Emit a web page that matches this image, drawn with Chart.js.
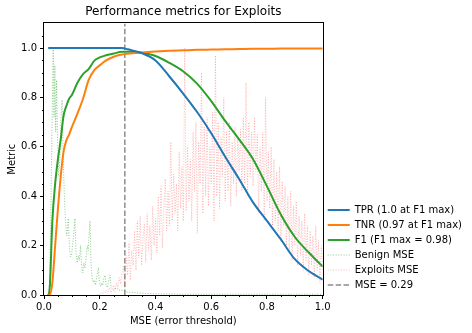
<!DOCTYPE html>
<html lang="en">
<head>
<meta charset="UTF-8">
<title>Performance metrics for Exploits</title>
<script src="https://cdn.jsdelivr.net/npm/chart.js"></script>
<style>
    body {
        margin: 0;
        background: #fff;
    }
</style>
</head>
<body>
<canvas id="myChart" width="472" height="333"></canvas>
<script>
// thresholds used for the TPR / TNR / F1 curves
const metricX = [0.015, 0.02, 0.03, 0.04, 0.05, 0.06, 0.07, 0.08, 0.09, 0.10, 0.12, 0.14, 0.16, 0.18, 0.20, 0.22, 0.25, 0.28,
    0.30, 0.35, 0.40, 0.45, 0.50, 0.55, 0.60, 0.65, 0.70, 0.75, 0.80, 0.85, 0.90, 0.95, 1.00];
const tpr = [1, 1, 1, 1, 1, 1, 1, 1, 1, 1, 1, 1, 1, 1, 1, 1, 1, 1,
    0.995, 0.98, 0.95, 0.885, 0.815, 0.74, 0.655, 0.56, 0.47, 0.375, 0.30, 0.225, 0.145, 0.097, 0.062];
const tnr = [0, 0, 0.05, 0.2, 0.35, 0.48, 0.58, 0.625, 0.65, 0.68, 0.735, 0.795, 0.87, 0.91, 0.93, 0.948, 0.965, 0.974,
    0.977, 0.982, 0.986, 0.989, 0.991, 0.993, 0.994, 0.995, 0.996, 0.997, 0.997, 0.998, 0.998, 0.998, 0.998];
const f1 = [0, 0.02, 0.3, 0.45, 0.55, 0.63, 0.725, 0.765, 0.795, 0.81, 0.86, 0.895, 0.915, 0.948, 0.962, 0.97, 0.978, 0.985,
    0.985, 0.981, 0.968, 0.94, 0.905, 0.855, 0.785, 0.705, 0.63, 0.55, 0.44, 0.325, 0.235, 0.172, 0.115];

// benign MSE distribution (normalised)
const benignX = [0.015, 0.020, 0.024, 0.029, 0.033, 0.036, 0.039, 0.042, 0.045, 0.049,
    0.053, 0.057, 0.061, 0.065, 0.069, 0.073, 0.077, 0.081, 0.084, 0.087,
    0.091, 0.095, 0.099, 0.103, 0.107, 0.111, 0.115, 0.119, 0.123, 0.127,
    0.131, 0.135, 0.139, 0.143, 0.147, 0.151, 0.155, 0.159, 0.162, 0.165,
    0.169, 0.173, 0.177, 0.181, 0.185, 0.189, 0.192, 0.195, 0.199, 0.203,
    0.207, 0.211, 0.215, 0.219, 0.223, 0.227, 0.231, 0.235, 0.237, 0.241,
    0.245, 0.25, 0.26, 0.27, 0.28, 0.29, 0.30, 0.32, 0.34, 0.37,
    0.40, 0.45, 0.50, 0.60, 0.70, 0.80, 0.90, 1.00];
const benignY = [0, 0.05, 0.3, 0.7, 1.0, 0.72, 0.93, 0.66, 0.87, 0.62,
    0.48, 0.55, 0.72, 0.79, 0.55, 0.40, 0.30, 0.24, 0.26, 0.31,
    0.20, 0.155, 0.16, 0.21, 0.25, 0.31, 0.17, 0.13, 0.16, 0.14,
    0.20, 0.12, 0.09, 0.13, 0.11, 0.15, 0.20, 0.18, 0.25, 0.30,
    0.12, 0.07, 0.05, 0.06, 0.04, 0.07, 0.09, 0.11, 0.05, 0.035,
    0.05, 0.04, 0.07, 0.08, 0.04, 0.03, 0.05, 0.07, 0.08, 0.03,
    0.025, 0.02, 0.03, 0.02, 0.018, 0.015, 0.012, 0.01, 0.008, 0.006,
    0.005, 0.004, 0.003, 0.003, 0.003, 0.003, 0.003, 0.003];

// exploits MSE distribution (normalised), one value every 0.005 from 0.19
const exploitsStart = 0.19;
const exploitsStep = 0.005;
const exploitsY = [
    0.000, 0.005, 0.002, 0.010, 0.004, 0.015, 0.008, 0.020, 0.012, 0.030, 0.010, 0.025, 0.040, 0.015, 0.050, 0.030, 0.070, 0.045, 0.090,
    0.12, 0.03, 0.16, 0.08, 0.21, 0.06, 0.18, 0.12, 0.26, 0.10, 0.30, 0.15,
    0.32, 0.12, 0.22, 0.29, 0.13, 0.33, 0.18, 0.28, 0.14, 0.36, 0.20, 0.31,
    0.17, 0.40, 0.24, 0.44, 0.19, 0.35, 0.47, 0.26, 0.42, 0.28, 0.62, 0.30,
    0.49, 0.33, 0.45, 0.26, 0.58, 0.35, 0.52, 0.30, 1.00, 0.34, 0.60, 0.38,
    0.55, 0.30, 0.66, 0.42, 0.70, 0.25, 0.62, 0.45, 0.90, 0.33, 0.68, 0.40,
    0.72, 0.36, 0.60, 0.45, 0.74, 0.30, 0.97, 0.40, 0.70, 0.35, 0.64, 0.48,
    0.80, 0.38, 0.66, 0.42, 0.70, 0.36, 0.62, 0.45, 0.68, 0.40, 0.64, 0.50,
    0.67, 0.42, 0.72, 0.45, 0.86, 0.40, 0.70, 0.48, 0.66, 0.44, 0.72, 0.50,
    0.65, 0.33, 0.60, 0.42, 0.66, 0.30, 0.80, 0.38, 0.58, 0.35, 0.60, 0.28,
    0.55, 0.30, 0.50, 0.26, 0.52, 0.22, 0.46, 0.28, 0.44, 0.20, 0.40, 0.18,
    0.42, 0.14, 0.36, 0.20, 0.38, 0.12, 0.32, 0.16, 0.30, 0.10, 0.33, 0.14,
    0.28, 0.08, 0.26, 0.12, 0.24, 0.07, 0.28, 0.10, 0.22, 0.05, 0.20, 0.10
];

const mseThreshold = 0.29;
const xTicks = [0, 0.2, 0.4, 0.6, 0.8, 1.0];
const yTicks = [0, 0.2, 0.4, 0.6, 0.8, 1.0];
const seriesNames = ['TPR (1.0 at F1 max)', 'TNR (0.97 at F1 max)', 'F1 (F1 max = 0.98)',
    'Benign MSE', 'Exploits MSE', 'MSE = 0.29'];

const font = 'DejaVu Sans';
Chart.defaults.font.family = font;
Chart.defaults.color = '#000';

function pts(xs, ys) {
    return ys.map((v, i) => ({ x: xs[i], y: v }));
}
const exploitsPts = exploitsY.map((v, i) => ({ x: exploitsStart + i * exploitsStep, y: v }));

// axes box + minor ticks like matplotlib
const frame = {
    id: 'frame',
    afterDraw(chart) {
        const { ctx, chartArea: a, scales: { x, y } } = chart;
        ctx.save();
        ctx.strokeStyle = '#000';
        ctx.lineWidth = 1;
        ctx.beginPath();
        for (let i = 1; i < 20; i++) {
            if (i % 4 === 0) continue;
            const px = Math.round(x.getPixelForValue(i * 0.05)) + 0.5;
            ctx.moveTo(px, a.bottom);
            ctx.lineTo(px, a.bottom + 2);
        }
        for (let i = 1; i < 22; i++) {
            if (i % 4 === 0) continue;
            const py = Math.round(y.getPixelForValue(i * 0.05)) + 0.5;
            ctx.moveTo(a.left, py);
            ctx.lineTo(a.left - 2, py);
        }
        ctx.stroke();
        ctx.strokeRect(Math.round(a.left) - 0.5, Math.round(a.top) - 0.5,
            Math.round(a.right - a.left) + 1, Math.round(a.bottom - a.top) + 1);
        ctx.restore();
    }
};

// legend samples use the dataset line style, not the point style
function legendLabels(chart) {
    return Chart.defaults.plugins.legend.labels.generateLabels(chart).map(item => {
        const ds = chart.data.datasets[item.datasetIndex];
        item.lineDash = ds.borderDash || [];
        item.lineWidth = ds.borderWidth;
        item.strokeStyle = ds.borderColor;
        return item;
    });
}

const chart = new Chart(document.getElementById('myChart'), {
    type: 'line',
    data: {
        datasets: [{
            label: seriesNames[0],
            data: pts(metricX, tpr),
            borderColor: '#1f77b4',
            borderWidth: 2,
            cubicInterpolationMode: 'monotone'
        }, {
            label: seriesNames[1],
            data: pts(metricX, tnr),
            borderColor: '#ff7f0e',
            borderWidth: 2,
            cubicInterpolationMode: 'monotone'
        }, {
            label: seriesNames[2],
            data: pts(metricX, f1),
            borderColor: '#2ca02c',
            borderWidth: 2,
            cubicInterpolationMode: 'monotone'
        }, {
            label: seriesNames[3],
            data: pts(benignX, benignY),
            borderColor: 'rgba(44,160,44,0.55)',
            borderWidth: 1,
            borderDash: [1, 1.65]
        }, {
            label: seriesNames[4],
            data: exploitsPts,
            borderColor: 'rgba(255,80,80,0.4)',
            borderWidth: 1,
            borderDash: [1, 1.65]
        }, {
            label: seriesNames[5],
            data: [{ x: mseThreshold, y: 0 }, { x: mseThreshold, y: 1.1 }],
            borderColor: 'rgba(128,128,128,0.9)',
            borderWidth: 1.5,
            borderDash: [5.5, 2.4]
        }]
    },
    options: {
        responsive: false,
        animation: false,
        elements: { point: { radius: 0 } },
        layout: { padding: { left: 0, right: 0, top: 0, bottom: 0 } },
        scales: {
            x: {
                type: 'linear',
                min: 0,
                max: 1,
                afterBuildTicks: s => { s.ticks = xTicks.map(v => ({ value: v })); },
                afterFit: s => { s.height = 38; },
                grid: { drawOnChartArea: false, color: '#000', tickLength: 4 },
                border: { display: false },
                ticks: {
                    padding: 2,
                    maxRotation: 0,
                    font: { size: 10 },
                    callback: v => v.toFixed(1)
                },
                title: {
                    display: true,
                    text: 'MSE (error threshold)',
                    font: { size: 10 },
                    padding: { top: 0, bottom: 5.5 }
                }
            },
            y: {
                min: 0,
                max: 1.1,
                afterBuildTicks: s => { s.ticks = yTicks.map(v => ({ value: v })); },
                afterFit: s => { s.width = 44; },
                grid: { drawOnChartArea: false, color: '#000', tickLength: 4 },
                border: { display: false },
                ticks: {
                    padding: 3,
                    font: { size: 10 },
                    callback: v => v.toFixed(1)
                },
                title: {
                    display: true,
                    text: 'Metric',
                    font: { size: 10 },
                    padding: { top: 6, bottom: 0 }
                }
            }
        },
        plugins: {
            title: {
                display: true,
                text: 'Performance metrics for Exploits',
                fullSize: false,
                font: { size: 12, weight: 'normal' },
                padding: { top: 5, bottom: 4 }
            },
            legend: {
                position: 'right',
                align: 'end',
                fullSize: false,
                maxWidth: 200,
                labels: {
                    usePointStyle: true,
                    pointStyle: 'line',
                    pointStyleWidth: 22,
                    padding: 5,
                    font: { size: 10 },
                    color: '#000',
                    generateLabels: legendLabels
                }
            },
            tooltip: { enabled: false }
        }
    },
    plugins: [frame]
});
</script>
</body>
</html>
